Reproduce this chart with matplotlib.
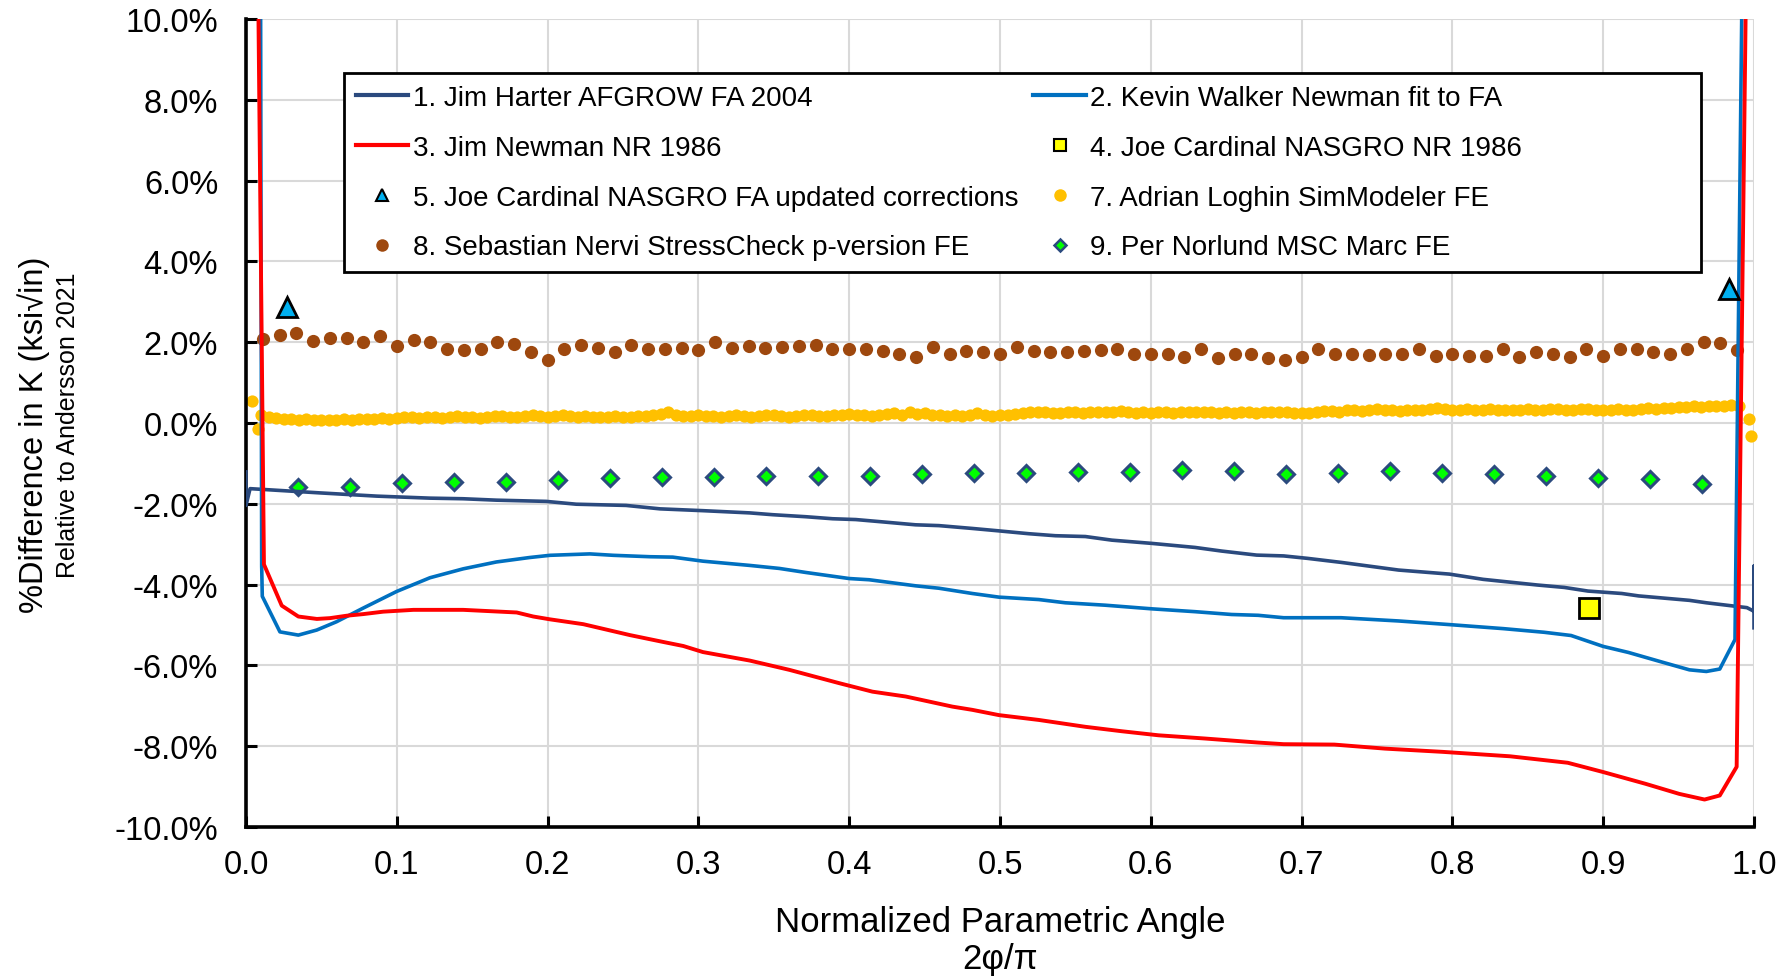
import numpy as np
import matplotlib.pyplot as plt
from matplotlib.lines import Line2D
from matplotlib.patches import Rectangle
from matplotlib.ticker import FuncFormatter, MultipleLocator

plt.rcParams['font.family'] = ['Liberation Sans', 'DejaVu Sans']

# 1. Jim Harter AFGROW FA 2004
harter_x = [0.0, 0.0, 0.0027, 0.0225, 0.049, 0.0867, 0.122, 0.144, 0.166, 0.199,
            0.219, 0.252, 0.2745, 0.303, 0.334, 0.3493, 0.3713, 0.389, 0.4044, 0.4198,
            0.444, 0.4595, 0.4816, 0.4992, 0.519, 0.5367, 0.5566, 0.5742, 0.6007, 0.6293,
            0.647, 0.6702, 0.6881, 0.7038, 0.7262, 0.7643, 0.798, 0.8204, 0.8563, 0.8742,
            0.8899, 0.9123, 0.9235, 0.9572, 0.9684, 0.9863, 0.9953, 1.0, 1.0, 1.0]
harter_y = [-1.21, -2.04, -1.625, -1.67, -1.73, -1.81, -1.86, -1.875, -1.91, -1.94,
            -2.01, -2.04, -2.125, -2.17, -2.225, -2.27, -2.32, -2.37, -2.39, -2.44,
            -2.52, -2.54, -2.61, -2.67, -2.74, -2.79, -2.81, -2.90, -2.98, -3.08,
            -3.17, -3.27, -3.29, -3.35, -3.45, -3.64, -3.74, -3.87, -4.01, -4.07,
            -4.16, -4.22, -4.28, -4.39, -4.45, -4.53, -4.57, -4.66, -3.54, -5.07]

# 2. Kevin Walker Newman fit to FA
walker_x = [0.0095, 0.0104, 0.0108, 0.0225, 0.0347, 0.0469, 0.060, 0.0778, 0.0999, 0.122,
            0.144, 0.166, 0.188, 0.2016, 0.228, 0.2436, 0.268, 0.283, 0.303, 0.334,
            0.3537, 0.3713, 0.4, 0.4132, 0.444, 0.4595, 0.4816, 0.4992, 0.5257, 0.5433,
            0.5698, 0.6007, 0.6293, 0.6536, 0.6712, 0.6881, 0.7262, 0.7643, 0.798, 0.8338,
            0.8608, 0.8787, 0.9, 0.9168, 0.9392, 0.9572, 0.9684, 0.9773, 0.9874, 0.993]
walker_y = [14.0, -3.54, -4.29, -5.17, -5.25, -5.125, -4.92, -4.58, -4.17, -3.83,
            -3.61, -3.44, -3.33, -3.275, -3.24, -3.275, -3.31, -3.32, -3.42, -3.525,
            -3.60, -3.70, -3.85, -3.88, -4.03, -4.09, -4.22, -4.31, -4.37, -4.45,
            -4.51, -4.60, -4.67, -4.74, -4.76, -4.82, -4.82, -4.90, -4.99, -5.09,
            -5.18, -5.26, -5.53, -5.68, -5.92, -6.11, -6.15, -6.09, -5.36, 14.0]

# 3. Jim Newman NR 1986
newman_x = [0.0072, 0.0119, 0.0237, 0.0347, 0.047, 0.0557, 0.0668, 0.0778, 0.091, 0.111,
            0.144, 0.1795, 0.1905, 0.2016, 0.2237, 0.2546, 0.2767, 0.29, 0.303, 0.334,
            0.3603, 0.3934, 0.4154, 0.4375, 0.4684, 0.4816, 0.4992, 0.5257, 0.5566, 0.5808,
            0.6051, 0.636, 0.6712, 0.6881, 0.7217, 0.7553, 0.7935, 0.8383, 0.8765, 0.9,
            0.928, 0.9504, 0.9672, 0.9773, 0.9885, 0.9957]
newman_y = [14.0, -3.5, -4.52, -4.79, -4.85, -4.83, -4.77, -4.73, -4.67, -4.625,
            -4.625, -4.69, -4.79, -4.86, -4.98, -5.25, -5.42, -5.52, -5.67, -5.88,
            -6.11, -6.44, -6.65, -6.77, -7.02, -7.10, -7.23, -7.35, -7.52, -7.63,
            -7.73, -7.81, -7.91, -7.95, -7.96, -8.06, -8.14, -8.25, -8.41, -8.64,
            -8.93, -9.18, -9.32, -9.22, -8.51, 14.0]

# 4. Joe Cardinal NASGRO NR 1986
cardinal_nr_x = [0.8904]
cardinal_nr_y = [-4.58]

# 5. Joe Cardinal NASGRO FA updated corrections
cardinal_fa_x = [0.027, 0.9835]
cardinal_fa_y = [2.87, 3.31]

# 7. Adrian Loghin SimModeler FE
loghin_x = np.concatenate([[0.004, 0.0077], np.round(np.arange(0.010, 0.9901, 0.005), 3),
                           [0.997, 0.998]])
loghin_y = [0.55, -0.15,
            0.20, 0.15, 0.12, 0.10, 0.09, 0.08, 0.09, 0.08, 0.07, 0.07,
            0.08, 0.09, 0.08, 0.10, 0.11, 0.10, 0.12, 0.11, 0.13, 0.14,
            0.15, 0.13, 0.16, 0.15, 0.12, 0.14, 0.17, 0.16, 0.14, 0.13,
            0.15, 0.17, 0.18, 0.16, 0.15, 0.18, 0.19, 0.17, 0.16, 0.18,
            0.19, 0.17, 0.16, 0.18, 0.15, 0.14, 0.16, 0.17, 0.15, 0.16,
            0.18, 0.17, 0.20, 0.22, 0.26, 0.21, 0.18, 0.17, 0.19, 0.18,
            0.17, 0.15, 0.18, 0.19, 0.17, 0.16, 0.18, 0.20, 0.19, 0.17,
            0.16, 0.18, 0.19, 0.21, 0.18, 0.17, 0.19, 0.21, 0.22, 0.20,
            0.19, 0.17, 0.20, 0.22, 0.24, 0.21, 0.26, 0.22, 0.24, 0.21,
            0.19, 0.18, 0.20, 0.17, 0.19, 0.24, 0.21, 0.18, 0.19, 0.21,
            0.22, 0.24, 0.27, 0.28, 0.27, 0.25, 0.24, 0.26, 0.27, 0.25,
            0.26, 0.27, 0.26, 0.28, 0.29, 0.27, 0.25, 0.26, 0.24, 0.26,
            0.27, 0.25, 0.28, 0.27, 0.26, 0.28, 0.27, 0.25, 0.26, 0.24,
            0.27, 0.26, 0.25, 0.27, 0.26, 0.28, 0.27, 0.25, 0.24, 0.25,
            0.28, 0.30, 0.29, 0.28, 0.31, 0.33, 0.30, 0.32, 0.35, 0.33,
            0.31, 0.30, 0.32, 0.31, 0.33, 0.34, 0.36, 0.34, 0.33, 0.32,
            0.34, 0.33, 0.32, 0.34, 0.33, 0.32, 0.31, 0.33, 0.34, 0.32,
            0.31, 0.35, 0.34, 0.32, 0.33, 0.35, 0.34, 0.32, 0.31, 0.33,
            0.34, 0.32, 0.33, 0.35, 0.36, 0.35, 0.37, 0.38, 0.39, 0.40,
            0.41, 0.40, 0.42, 0.43, 0.42, 0.44, 0.43,
            0.10, -0.31]

# 8. Sebastian Nervi StressCheck p-version FE
nervi_x = np.arange(1, 90) / 90
nervi_y = [2.07, 2.17, 2.23, 2.02, 2.11, 2.11, 2.00, 2.16, 1.90, 2.05,
           2.00, 1.84, 1.80, 1.82, 2.00, 1.96, 1.75, 1.55, 1.82, 1.93,
           1.86, 1.75, 1.93, 1.82, 1.84, 1.86, 1.80, 2.00, 1.86, 1.90,
           1.86, 1.88, 1.90, 1.93, 1.82, 1.84, 1.82, 1.78, 1.72, 1.63,
           1.88, 1.72, 1.78, 1.76, 1.70, 1.88, 1.78, 1.75, 1.76, 1.78,
           1.80, 1.84, 1.70, 1.72, 1.70, 1.63, 1.82, 1.60, 1.72, 1.72,
           1.60, 1.55, 1.63, 1.82, 1.72, 1.72, 1.68, 1.72, 1.72, 1.82,
           1.67, 1.72, 1.67, 1.67, 1.84, 1.63, 1.75, 1.72, 1.63, 1.82,
           1.67, 1.84, 1.84, 1.75, 1.70, 1.82, 2.00, 1.97, 1.80]

# 9. Per Norlund MSC Marc FE
norlund_x = np.arange(1, 29) / 29
norlund_y = [-1.58, -1.58, -1.49, -1.45, -1.45, -1.40, -1.37, -1.34, -1.34, -1.30,
             -1.30, -1.30, -1.27, -1.245, -1.245, -1.22, -1.22, -1.16, -1.19, -1.26,
             -1.23, -1.20, -1.23, -1.26, -1.32, -1.36, -1.38, -1.50]

labels = ['1. Jim Harter AFGROW FA 2004', '2. Kevin Walker Newman fit to FA',
          '3. Jim Newman NR 1986', '4. Joe Cardinal NASGRO NR 1986',
          '5. Joe Cardinal NASGRO FA updated corrections', '7. Adrian Loghin SimModeler FE',
          '8. Sebastian Nervi StressCheck p-version FE', '9. Per Norlund MSC Marc FE']

navy = '#2B4A7E'
blue = '#0070C0'
red = '#FF0000'
gold = '#FFC000'
brown = '#9E480E'

fig = plt.figure(figsize=(17.82, 9.78), dpi=100)
ax = fig.add_axes([246 / 1782, 1 - 828 / 978, 1508 / 1782, 808 / 978])

ax.plot(loghin_x, loghin_y, 'o', color=gold, ms=8.8, mec='none', zorder=2, clip_on=False)
ax.plot(nervi_x, nervi_y, 'o', color=brown, ms=9.5, mec='none', zorder=2, clip_on=False)
ax.plot(norlund_x, norlund_y, 'D', color='#00FF00', ms=8, mec=navy, mew=2.2, zorder=2)
ax.plot(harter_x, harter_y, color=navy, lw=2.6, zorder=3)
ax.plot(walker_x, walker_y, color=blue, lw=2.6, zorder=3)
ax.plot(newman_x, newman_y, color=red, lw=2.8, zorder=3)
ax.plot(cardinal_nr_x, cardinal_nr_y, 's', color='#FFFF00', ms=15, mec='black', mew=2, zorder=4)
ax.plot(cardinal_fa_x, cardinal_fa_y, '^', color='#00B0F0', ms=14, mec='black', mew=2,
        zorder=4, clip_on=False)

ax.set_xlim(0, 1)
ax.set_ylim(-10, 10)
ax.xaxis.set_major_locator(MultipleLocator(0.1))
ax.yaxis.set_major_locator(MultipleLocator(2))
ax.xaxis.set_major_formatter(FuncFormatter(lambda v, p: f'{v:.1f}'))
ax.yaxis.set_major_formatter(FuncFormatter(lambda v, p: f'{v:.1f}%'))
ax.grid(True, color='#D9D9D9', lw=1.5, zorder=0)
ax.set_axisbelow(True)
for s in ['top', 'right']:
    ax.spines[s].set_visible(False)
for s in ['left', 'bottom']:
    ax.spines[s].set_linewidth(2.6)
ax.tick_params(direction='in', length=8, width=2.2, labelsize=23.5)
ax.tick_params(axis='y', pad=20)
ax.tick_params(axis='x', pad=16)

# legend box drawn separately so it can be wider than its contents
ax.add_patch(Rectangle((0.065, 0.687), 0.900, 0.246, transform=ax.transAxes,
                       facecolor='white', edgecolor='black', lw=2, zorder=5))

# legend, filled column by column
h = [Line2D([], [], color=navy, lw=3),
     Line2D([], [], color=red, lw=3),
     Line2D([], [], ls='none', marker='^', color='#00B0F0', ms=9, mec='black', mew=1.5),
     Line2D([], [], ls='none', marker='o', color=brown, ms=9, mec='none'),
     Line2D([], [], color=blue, lw=3),
     Line2D([], [], ls='none', marker='s', color='#FFFF00', ms=9, mec='black', mew=1.5),
     Line2D([], [], ls='none', marker='o', color=gold, ms=9, mec='none'),
     Line2D([], [], ls='none', marker='D', color='#00FF00', ms=6.5, mec=navy, mew=1.8)]
order = [0, 2, 4, 6, 1, 3, 5, 7]
leg = ax.legend(h, [labels[i] for i in order], ncol=2, loc='upper left',
                bbox_to_anchor=(0.065, 0.933), borderaxespad=0, frameon=False,
                fontsize=20, handlelength=1.9, handletextpad=0.15, labelspacing=0.86,
                borderpad=0.42, columnspacing=0.55)
leg.set_zorder(6)

fig.text(34 / 1782, 1 - 435 / 978, '%Difference in K (ksi\u221ain)', rotation=90,
         ha='center', va='center', fontsize=23.5)
fig.text(68 / 1782, 1 - 425 / 978, 'Relative to Andersson 2021', rotation=90,
         ha='center', va='center', fontsize=18)
fig.text(1000 / 1782, 1 - 932 / 978, 'Normalized Parametric Angle', ha='center',
         va='baseline', fontsize=25)
fig.text(1000 / 1782, 1 - 969 / 978, '2\u03c6/\u03c0', ha='center', va='baseline', fontsize=25)

fig.savefig('out.png', dpi=100)
